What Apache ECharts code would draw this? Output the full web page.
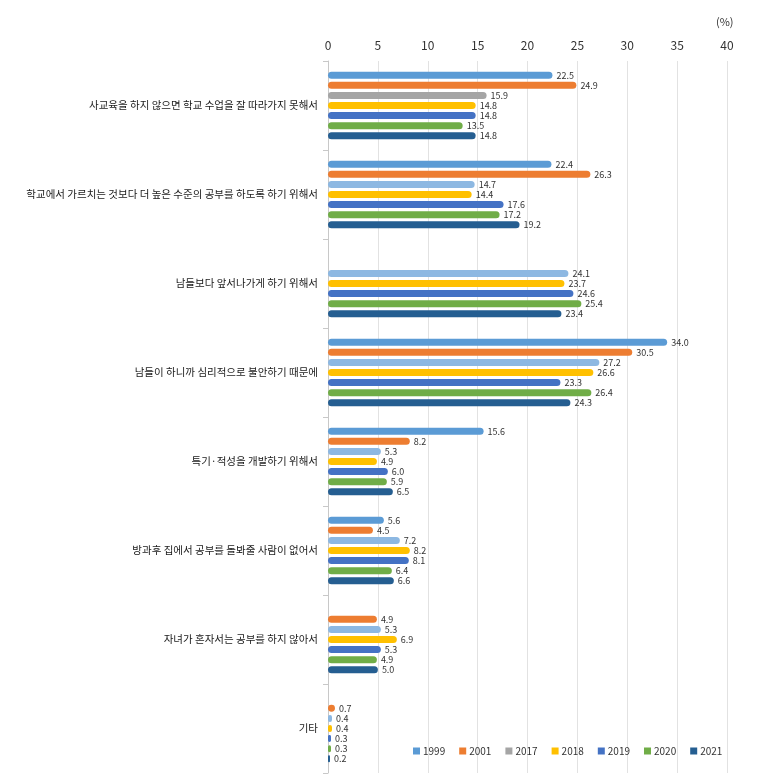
<!DOCTYPE html>
<html>
<head>
<meta charset="utf-8">
<script src="https://cdn.jsdelivr.net/npm/echarts@6/dist/echarts.min.js"></script>
<style>html,body{margin:0;padding:0;background:#fff;}#c{width:768px;height:780px;}</style>
</head>
<body>
<div id="c"></div>
<script>
var categories = [
  '사교육을 하지 않으면 학교 수업을 잘 따라가지 못해서',
  '학교에서 가르치는 것보다 더 높은 수준의 공부를 하도록 하기 위해서',
  '남들보다 앞서나가게 하기 위해서',
  '남들이 하니까 심리적으로 불안하기 때문에',
  '특기·적성을 개발하기 위해서',
  '방과후 집에서 공부를 돌봐줄 사람이 없어서',
  '자녀가 혼자서는 공부를 하지 않아서',
  '기타'
];
var years = ['1999', '2001', '2017', '2018', '2019', '2020', '2021'];
var y1999 = [22.5, 22.4, null, 34.0, 15.6, 5.6, null, null];
var y2001 = [24.9, 26.3, null, 30.5, 8.2, 4.5, 4.9, 0.7];
var y2017 = [15.9, 14.7, 24.1, 27.2, 5.3, 7.2, 5.3, 0.4];
var y2018 = [14.8, 14.4, 23.7, 26.6, 4.9, 8.2, 6.9, 0.4];
var y2019 = [14.8, 17.6, 24.6, 23.3, 6.0, 8.1, 5.3, 0.3];
var y2020 = [13.5, 17.2, 25.4, 26.4, 5.9, 6.4, 4.9, 0.3];
var y2021 = [14.8, 19.2, 23.4, 24.3, 6.5, 6.6, 5.0, 0.2];
var xTicks = [0, 5, 10, 15, 20, 25, 30, 35, 40];

var seriesValues = [y1999, y2001, y2017, y2018, y2019, y2020, y2021];
var colors = ['#5b9bd5', '#ed7d31', '#a5a5a5', '#ffc000', '#4472c4', '#70ad47', '#255e91'];
var lightBlue = '#8db8e2';
var font = '"Noto Sans CJK KR", "Noto Sans", sans-serif';

var series = seriesValues.map(function (vals, si) {
  var data = vals.map(function (v, ci) {
    if (si === 2 && ci > 0 && v !== null) {
      return { value: v, itemStyle: { color: lightBlue } };
    }
    return v;
  });
  return {
    name: years[si],
    type: 'bar',
    data: data,
    barWidth: 7,
    barGap: '44%',
    itemStyle: { color: colors[si], borderRadius: 4 },
    label: {
      show: true,
      position: 'right',
      distance: 4,
      fontSize: 9,
      color: '#333',
      fontFamily: font,
      formatter: function (p) { return p.value == null ? '' : Number(p.value).toFixed(1); }
    }
  };
});

var chart = echarts.init(document.getElementById('c'), null, { renderer: 'canvas' });
chart.setOption({
  animation: false,
  backgroundColor: '#fff',
  textStyle: { fontFamily: font },
  grid: { left: 328, right: 41, top: 61, bottom: 7, containLabel: false },
  xAxis: {
    type: 'value',
    position: 'top',
    min: xTicks[0],
    max: xTicks[xTicks.length - 1],
    interval: 5,
    axisLine: { show: false },
    axisTick: { show: false },
    axisLabel: { fontSize: 12, color: '#333', margin: 10, fontFamily: font },
    splitLine: { show: true, lineStyle: { color: '#e2e2e2', width: 1 } }
  },
  yAxis: {
    type: 'category',
    inverse: true,
    data: categories,
    axisLine: { show: true, lineStyle: { color: '#c8c8c8' } },
    axisTick: { show: true, length: 5, lineStyle: { color: '#c8c8c8' } },
    axisLabel: { fontSize: 10.5, color: '#1a1a1a', margin: 10, fontFamily: font }
  },
  legend: {
    data: years,
    left: 408,
    top: 741,
    itemWidth: 7,
    itemHeight: 7,
    itemGap: 14,
    icon: 'rect',
    textStyle: { fontSize: 10, color: '#333', fontFamily: font, padding: [0, 0, 0, -2] }
  },
  graphic: [{
    type: 'text',
    left: 716,
    top: 16,
    style: { text: '(%)', fontSize: 11, fill: '#333', fontFamily: font }
  }],
  series: series
});
</script>
</body>
</html>
